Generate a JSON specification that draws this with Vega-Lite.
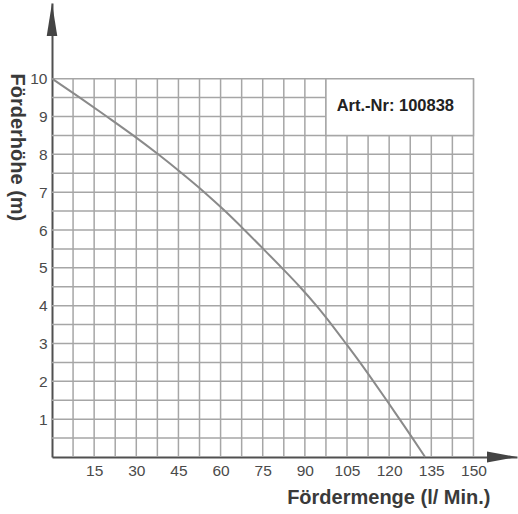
{
  "$schema": "https://vega.github.io/schema/vega-lite/v6.json",
  "autosize": "none",
  "width": 465,
  "height": 454,
  "padding": {"left": 52, "top": 3, "right": 1, "bottom": 57},
  "background": "white",
  "config": {
    "view": {"stroke": null},
    "axis": {
      "labelFont": "Liberation Sans",
      "labelFontSize": 15.5,
      "labelColor": "#4a4a4a",
      "titleFont": "Liberation Sans",
      "titleFontSize": 20,
      "titleFontWeight": "bold",
      "titleColor": "#3a3a3a",
      "ticks": false,
      "grid": false,
      "domainColor": "#505050",
      "domainWidth": 2
    }
  },
  "resolve": {"axis": {"x": "independent", "y": "independent"}},
  "datasets": {
    "hgrid": [
      {"h": 0.5}, {"h": 1}, {"h": 1.5}, {"h": 2}, {"h": 2.5}, {"h": 3}, {"h": 3.5}, {"h": 4}, {"h": 4.5}, {"h": 5},
      {"h": 5.5}, {"h": 6}, {"h": 6.5}, {"h": 7}, {"h": 7.5}, {"h": 8}, {"h": 8.5}, {"h": 9}, {"h": 9.5}, {"h": 10}
    ],
    "vgrid": [
      {"q": 7.5}, {"q": 15}, {"q": 22.5}, {"q": 30}, {"q": 37.5}, {"q": 45}, {"q": 52.5}, {"q": 60}, {"q": 67.5}, {"q": 75},
      {"q": 82.5}, {"q": 90}, {"q": 97.5}, {"q": 105}, {"q": 112.5}, {"q": 120}, {"q": 127.5}, {"q": 135}, {"q": 142.5}, {"q": 150}
    ],
    "curve": [
      {"menge": 0, "hoehe": 10},
      {"menge": 9.9, "hoehe": 9.5},
      {"menge": 19.5, "hoehe": 9.0},
      {"menge": 28.9, "hoehe": 8.5},
      {"menge": 37.8, "hoehe": 8.0},
      {"menge": 46.2, "hoehe": 7.5},
      {"menge": 54.2, "hoehe": 7.0},
      {"menge": 61.6, "hoehe": 6.5},
      {"menge": 68.5, "hoehe": 6.0},
      {"menge": 75.2, "hoehe": 5.5},
      {"menge": 81.8, "hoehe": 5.0},
      {"menge": 88.2, "hoehe": 4.5},
      {"menge": 94.1, "hoehe": 4.0},
      {"menge": 99.5, "hoehe": 3.5},
      {"menge": 104.6, "hoehe": 3.0},
      {"menge": 109.6, "hoehe": 2.5},
      {"menge": 114.4, "hoehe": 2.0},
      {"menge": 119.1, "hoehe": 1.5},
      {"menge": 123.7, "hoehe": 1.0},
      {"menge": 128.3, "hoehe": 0.5},
      {"menge": 132.8, "hoehe": 0}
    ],
    "label": [{"text": "Art.-Nr: 100838"}]
  },
  "layer": [
    {
      "data": {"name": "hgrid"},
      "mark": {"type": "rule", "color": "#a6a6a6", "strokeWidth": 1.5},
      "encoding": {
        "y": {"field": "h", "type": "quantitative", "scale": {"domain": [0, 12], "nice": false}, "axis": null},
        "x": {"datum": 0, "scale": {"domain": [0, 165.5], "nice": false}, "axis": null},
        "x2": {"datum": 150}
      }
    },
    {
      "data": {"name": "vgrid"},
      "mark": {"type": "rule", "color": "#a6a6a6", "strokeWidth": 1.5},
      "encoding": {
        "x": {"field": "q", "type": "quantitative", "scale": {"domain": [0, 165.5], "nice": false}, "axis": null},
        "y": {"datum": 0, "scale": {"domain": [0, 12], "nice": false}, "axis": null},
        "y2": {"datum": 10}
      }
    },
    {
      "data": {"name": "label"},
      "mark": {"type": "rect", "fill": "white", "stroke": "#a6a6a6", "strokeWidth": 1.5},
      "encoding": {
        "x": {"datum": 97.5, "scale": {"domain": [0, 165.5], "nice": false}, "axis": null},
        "x2": {"datum": 150},
        "y": {"datum": 8.5, "scale": {"domain": [0, 12], "nice": false}, "axis": null},
        "y2": {"datum": 10}
      }
    },
    {
      "data": {"name": "label"},
      "mark": {"type": "text", "font": "Liberation Sans", "fontWeight": "bold", "fontSize": 16.5, "color": "#222222", "align": "center", "baseline": "middle"},
      "encoding": {
        "x": {"datum": 122.2, "scale": {"domain": [0, 165.5], "nice": false}, "axis": null},
        "y": {"datum": 9.27, "scale": {"domain": [0, 12], "nice": false}, "axis": null},
        "text": {"field": "text"}
      }
    },
    {
      "data": {"name": "curve"},
      "mark": {"type": "line", "color": "#8a8a8a", "strokeWidth": 2, "interpolate": "monotone"},
      "encoding": {
        "x": {
          "field": "menge", "type": "quantitative",
          "scale": {"domain": [0, 165.5], "nice": false},
          "axis": {
            "values": [15, 30, 45, 60, 75, 90, 105, 120, 135, 150],
            "labelPadding": 6,
            "title": "Fördermenge (l/ Min.)",
            "titleAlign": "right",
            "titleBaseline": "alphabetic",
            "titleX": 438,
            "titleY": 46
          }
        },
        "y": {
          "field": "hoehe", "type": "quantitative",
          "scale": {"domain": [0, 12], "nice": false},
          "axis": {
            "values": [1, 2, 3, 4, 5, 6, 7, 8, 9, 10],
            "labelPadding": 5,
            "title": "Förderhöhe (m)",
            "titleAngle": 90,
            "titleAlign": "left",
            "titleBaseline": "middle",
            "titleX": -36,
            "titleY": 70
          }
        }
      }
    },
    {
      "data": {"name": "label"},
      "mark": {"type": "point", "filled": true, "color": "#444444", "opacity": 1, "shape": "M0,0L0.32,2L-0.32,2Z", "size": 1089},
      "encoding": {
        "x": {"datum": 0, "scale": {"domain": [0, 165.5], "nice": false}, "axis": null},
        "y": {"datum": 12, "scale": {"domain": [0, 12], "nice": false}, "axis": null}
      }
    },
    {
      "data": {"name": "label"},
      "mark": {"type": "point", "filled": true, "color": "#444444", "opacity": 1, "shape": "M0,0L-2,-0.37L-2,0.37Z", "size": 900},
      "encoding": {
        "x": {"datum": 165.5, "scale": {"domain": [0, 165.5], "nice": false}, "axis": null},
        "y": {"datum": 0, "scale": {"domain": [0, 12], "nice": false}, "axis": null}
      }
    }
  ]
}
